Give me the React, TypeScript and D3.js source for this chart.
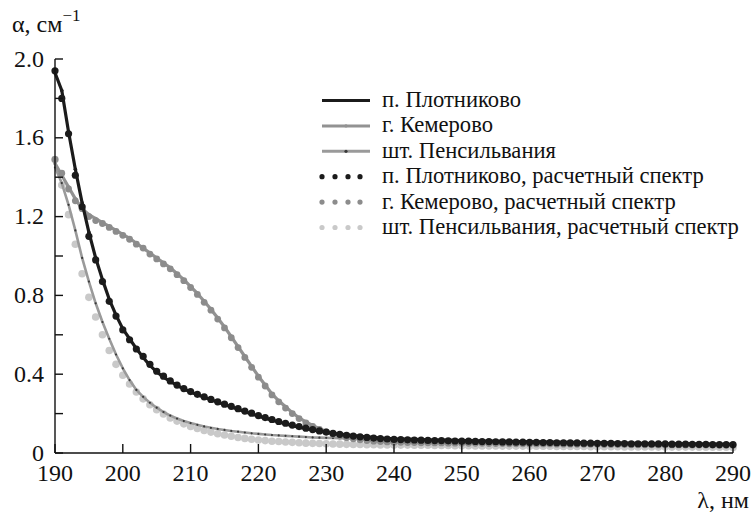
import React from "react";
import * as d3 from "d3";

// wavelength grid, nm
const WL: number[] = d3.range(190, 291, 1);

// п. Плотниково, measured
const PLOT_EXP = [
  1.93, 1.84, 1.63, 1.44, 1.27, 1.12, 0.99, 0.88, 0.78, 0.70, 0.63,
  0.58, 0.53, 0.485, 0.445, 0.412, 0.385, 0.363, 0.343, 0.325, 0.31,
  0.296, 0.283, 0.27, 0.258, 0.246, 0.234, 0.222, 0.21, 0.198, 0.187,
  0.177, 0.167, 0.157, 0.148, 0.139, 0.131, 0.124, 0.117, 0.111, 0.105,
  0.1, 0.096, 0.092, 0.088, 0.085, 0.082, 0.079, 0.076, 0.074, 0.072,
  0.071, 0.07, 0.069, 0.068, 0.067, 0.066, 0.066, 0.065, 0.064, 0.063,
  0.063, 0.062, 0.061, 0.061, 0.06, 0.059, 0.059, 0.058, 0.058, 0.057,
  0.056, 0.056, 0.055, 0.055, 0.054, 0.054, 0.053, 0.053, 0.052, 0.052,
  0.051, 0.051, 0.05, 0.05, 0.049, 0.049, 0.048, 0.048, 0.048, 0.047,
  0.047, 0.046, 0.046, 0.046, 0.045, 0.045, 0.045, 0.044, 0.044, 0.044,
];

// п. Плотниково, calculated
const PLOT_CALC = [
  1.94, 1.8, 1.62, 1.41, 1.25, 1.1, 0.98, 0.87, 0.77, 0.695, 0.625,
  0.575, 0.528, 0.49, 0.45, 0.415, 0.39, 0.366, 0.345, 0.327, 0.312,
  0.298, 0.285, 0.272, 0.26, 0.248, 0.237, 0.225, 0.213, 0.202, 0.19,
  0.18, 0.17, 0.16, 0.151, 0.142, 0.134, 0.126, 0.119, 0.112, 0.106,
  0.1, 0.095, 0.09, 0.086, 0.082, 0.079, 0.076, 0.073, 0.071, 0.069,
  0.068, 0.067, 0.066, 0.065, 0.064, 0.063, 0.063, 0.062, 0.061, 0.06,
  0.06, 0.059, 0.058, 0.058, 0.057, 0.056, 0.056, 0.055, 0.055, 0.054,
  0.054, 0.053, 0.053, 0.052, 0.052, 0.051, 0.051, 0.05, 0.05, 0.049,
  0.049, 0.049, 0.048, 0.048, 0.047, 0.047, 0.047, 0.046, 0.046, 0.046,
  0.045, 0.045, 0.045, 0.044, 0.044, 0.044, 0.043, 0.043, 0.043, 0.043,
];

// г. Кемерово, measured
const KEM_EXP = [
  1.47, 1.41, 1.35, 1.29, 1.24, 1.21, 1.19, 1.17, 1.15, 1.13, 1.11,
  1.09, 1.065, 1.04, 1.015, 0.99, 0.965, 0.94, 0.91, 0.88, 0.845,
  0.81, 0.77, 0.73, 0.685, 0.64, 0.59, 0.54, 0.49, 0.44, 0.39,
  0.345, 0.3, 0.265, 0.235, 0.205, 0.178, 0.158, 0.14, 0.123, 0.11,
  0.098, 0.089, 0.082, 0.076, 0.071, 0.067, 0.063, 0.06, 0.058, 0.056,
  0.055, 0.054, 0.054, 0.053, 0.053, 0.052, 0.052, 0.051, 0.051, 0.05,
  0.05, 0.05, 0.049, 0.049, 0.049, 0.048, 0.048, 0.048, 0.047, 0.047,
  0.047, 0.046, 0.046, 0.046, 0.045, 0.045, 0.045, 0.045, 0.044, 0.044,
  0.044, 0.044, 0.043, 0.043, 0.043, 0.043, 0.042, 0.042, 0.042, 0.042,
  0.041, 0.041, 0.041, 0.041, 0.04, 0.04, 0.04, 0.04, 0.04, 0.039,
];

// г. Кемерово, calculated
const KEM_CALC = [
  1.49, 1.42, 1.34, 1.28, 1.24, 1.2, 1.18, 1.165, 1.145, 1.125, 1.105,
  1.085, 1.06, 1.04, 1.01, 0.985, 0.96, 0.935, 0.905, 0.875, 0.84,
  0.805, 0.765, 0.725, 0.68, 0.635, 0.585, 0.535, 0.485, 0.435, 0.385,
  0.34, 0.295, 0.26, 0.228, 0.2, 0.175, 0.153, 0.135, 0.12, 0.107,
  0.095, 0.086, 0.078, 0.072, 0.067, 0.063, 0.06, 0.058, 0.056, 0.055,
  0.054, 0.053, 0.053, 0.052, 0.052, 0.051, 0.051, 0.05, 0.05, 0.05,
  0.049, 0.049, 0.049, 0.048, 0.048, 0.048, 0.047, 0.047, 0.047, 0.046,
  0.046, 0.046, 0.046, 0.045, 0.045, 0.045, 0.044, 0.044, 0.044, 0.044,
  0.043, 0.043, 0.043, 0.043, 0.042, 0.042, 0.042, 0.042, 0.041, 0.041,
  0.041, 0.041, 0.04, 0.04, 0.04, 0.04, 0.04, 0.039, 0.039, 0.039,
];

// шт. Пенсильвания, measured
const PEN_EXP = [
  1.45, 1.37, 1.26, 1.13, 0.99, 0.87, 0.76, 0.665, 0.58, 0.5, 0.43,
  0.37, 0.32, 0.285, 0.255, 0.23, 0.208, 0.19, 0.175, 0.162, 0.152,
  0.143, 0.135, 0.128, 0.122, 0.117, 0.112, 0.108, 0.104, 0.1, 0.097,
  0.094, 0.091, 0.089, 0.087, 0.085, 0.083, 0.081, 0.079, 0.078, 0.077,
  0.076, 0.075, 0.074, 0.073, 0.072, 0.071, 0.07, 0.07, 0.069, 0.068,
  0.067, 0.067, 0.066, 0.066, 0.065, 0.065, 0.064, 0.064, 0.063, 0.063,
  0.062, 0.062, 0.061, 0.061, 0.06, 0.06, 0.059, 0.059, 0.058, 0.058,
  0.057, 0.057, 0.056, 0.056, 0.055, 0.055, 0.054, 0.054, 0.053, 0.053,
  0.052, 0.052, 0.051, 0.051, 0.05, 0.05, 0.05, 0.049, 0.049, 0.049,
  0.048, 0.048, 0.048, 0.047, 0.047, 0.047, 0.046, 0.046, 0.046, 0.045,
];

// шт. Пенсильвания, calculated
const PEN_CALC = [
  1.49, 1.36, 1.21, 1.06, 0.91, 0.79, 0.69, 0.6, 0.52, 0.45, 0.395,
  0.35, 0.31, 0.275, 0.245, 0.22, 0.198, 0.178, 0.162, 0.148, 0.135,
  0.124, 0.114, 0.106, 0.098, 0.091, 0.085, 0.079, 0.074, 0.07, 0.066,
  0.063, 0.06, 0.058, 0.056, 0.054, 0.052, 0.05, 0.049, 0.048, 0.047,
  0.046, 0.045, 0.044, 0.043, 0.043, 0.042, 0.042, 0.041, 0.041, 0.04,
  0.04, 0.04, 0.039, 0.039, 0.039, 0.038, 0.038, 0.038, 0.037, 0.037,
  0.037, 0.036, 0.036, 0.036, 0.036, 0.035, 0.035, 0.035, 0.035, 0.034,
  0.034, 0.034, 0.034, 0.033, 0.033, 0.033, 0.033, 0.033, 0.032, 0.032,
  0.032, 0.032, 0.032, 0.031, 0.031, 0.031, 0.031, 0.031, 0.03, 0.03,
  0.03, 0.03, 0.03, 0.03, 0.029, 0.029, 0.029, 0.029, 0.029, 0.028,
];

const X_TICKS = [190, 200, 210, 220, 230, 240, 250, 260, 270, 280, 290];
const Y_TICKS = [0, 0.2, 0.4, 0.6, 0.8, 1.0, 1.2, 1.4, 1.6, 1.8, 2.0];
const Y_LABELS = ["0", "", "0.4", "", "0.8", "", "1.2", "", "1.6", "", "2.0"];

const LEGEND = [
  "п. Плотниково",
  "г. Кемерово",
  "шт. Пенсильвания",
  "п. Плотниково, расчетный спектр",
  "г. Кемерово, расчетный спектр",
  "шт. Пенсильвания, расчетный спектр",
];

const TXT = { fontFamily: "Liberation Serif" };
const INK = "#111";
const BLACK = "#1b1b1b";
const KEM_LINE = "#929292";
const KEM_DOT = "#8c8c8c";
const PEN_LINE = "#9a9a9a";
const PEN_MARK = "#3a3a3a";
const PEN_DOT = "#c9c9c9";

const x = d3.scaleLinear().domain([190, 290]).range([55, 733]);
const y = d3.scaleLinear().domain([0, 2]).range([453, 59]);
const lineGen = d3.line<number>().x((_v, i) => x(WL[i])).y(v => y(v));

function Dots({ vals, r, fill }: { vals: number[]; r: number; fill: string }) {
  return (
    <g>
      {vals.map((v, i) => (
        <circle key={i} cx={x(WL[i])} cy={y(v)} r={r} fill={fill} />
      ))}
    </g>
  );
}

function Measured({ vals, stroke, width, mark, mr }:
  { vals: number[]; stroke: string; width: number; mark: string; mr: number }) {
  return (
    <g>
      <path d={lineGen(vals) ?? ""} fill="none" stroke={stroke} strokeWidth={width} strokeLinejoin="round" />
      <Dots vals={vals} r={mr} fill={mark} />
    </g>
  );
}

export default function App() {
  const rowY = (i: number) => 100.5 + i * 25.4;
  const lineKeys = [
    { stroke: BLACK, mark: BLACK },
    { stroke: KEM_LINE, mark: KEM_LINE },
    { stroke: PEN_LINE, mark: PEN_MARK },
  ];
  const dotKeys = [BLACK, KEM_DOT, PEN_DOT];

  return (
    <svg
      width={753}
      height={515}
      style={{ position: "absolute", left: 0, top: 0, background: "#fff", display: "block" }}
    >
      {/* data: Pennsylvania calc under its line, Plotnikovo on top */}
      <Dots vals={PEN_CALC} r={3.8} fill={PEN_DOT} />
      <Measured vals={PEN_EXP} stroke={PEN_LINE} width={2.6} mark={PEN_MARK} mr={1.1} />
      <Measured vals={KEM_EXP} stroke={KEM_LINE} width={3.2} mark={KEM_LINE} mr={1.8} />
      <Dots vals={KEM_CALC} r={3.4} fill={KEM_DOT} />
      <Measured vals={PLOT_EXP} stroke={BLACK} width={3.2} mark={BLACK} mr={1.8} />
      <Dots vals={PLOT_CALC} r={3.6} fill={BLACK} />

      {/* x axis */}
      <line x1={x(190)} x2={x(290)} y1={y(0)} y2={y(0)} stroke={INK} strokeWidth={1.4} />
      {X_TICKS.map(t => (
        <g key={t}>
          <line x1={x(t)} x2={x(t)} y1={y(0)} y2={y(0) - 9} stroke={INK} strokeWidth={1.4} />
          <text x={x(t)} y={481} textAnchor="middle" fontSize={24} fill={INK} style={TXT}>{t}</text>
        </g>
      ))}

      {/* y axis */}
      <line x1={x(190)} x2={x(190)} y1={y(0)} y2={y(2)} stroke={INK} strokeWidth={1.4} />
      {Y_TICKS.map((t, i) => (
        <g key={t}>
          <line x1={x(190)} x2={x(190) + 8} y1={y(t)} y2={y(t)} stroke={INK} strokeWidth={1.4} />
          {Y_LABELS[i] && (
            <text x={44} y={y(t) + 7.5} textAnchor="end" fontSize={24} fill={INK} style={TXT}>{Y_LABELS[i]}</text>
          )}
        </g>
      ))}

      {/* axis titles */}
      <text x={12} y={32} fontSize={24} fill={INK} style={TXT}>
        α, см<tspan dy={-11} fontSize={17} style={TXT}>−1</tspan>
      </text>
      <text x={749} y={508} textAnchor="end" fontSize={24} fill={INK} style={TXT}>λ, нм</text>

      {/* legend */}
      {lineKeys.map((s, i) => (
        <g key={i}>
          <line x1={322} x2={370} y1={rowY(i)} y2={rowY(i)} stroke={s.stroke} strokeWidth={3} />
          <circle cx={346} cy={rowY(i)} r={1.6} fill={s.mark} />
        </g>
      ))}
      {dotKeys.map((c, j) => (
        <g key={c}>
          {[322, 335, 348, 360].map(cx => (
            <circle key={cx} cx={cx} cy={rowY(j + 3)} r={2.6} fill={c} />
          ))}
        </g>
      ))}
      {LEGEND.map((t, i) => (
        <text key={t} x={382} y={rowY(i) + 6.5} fontSize={22.6} fill={INK} style={TXT}>{t}</text>
      ))}
    </svg>
  );
}
